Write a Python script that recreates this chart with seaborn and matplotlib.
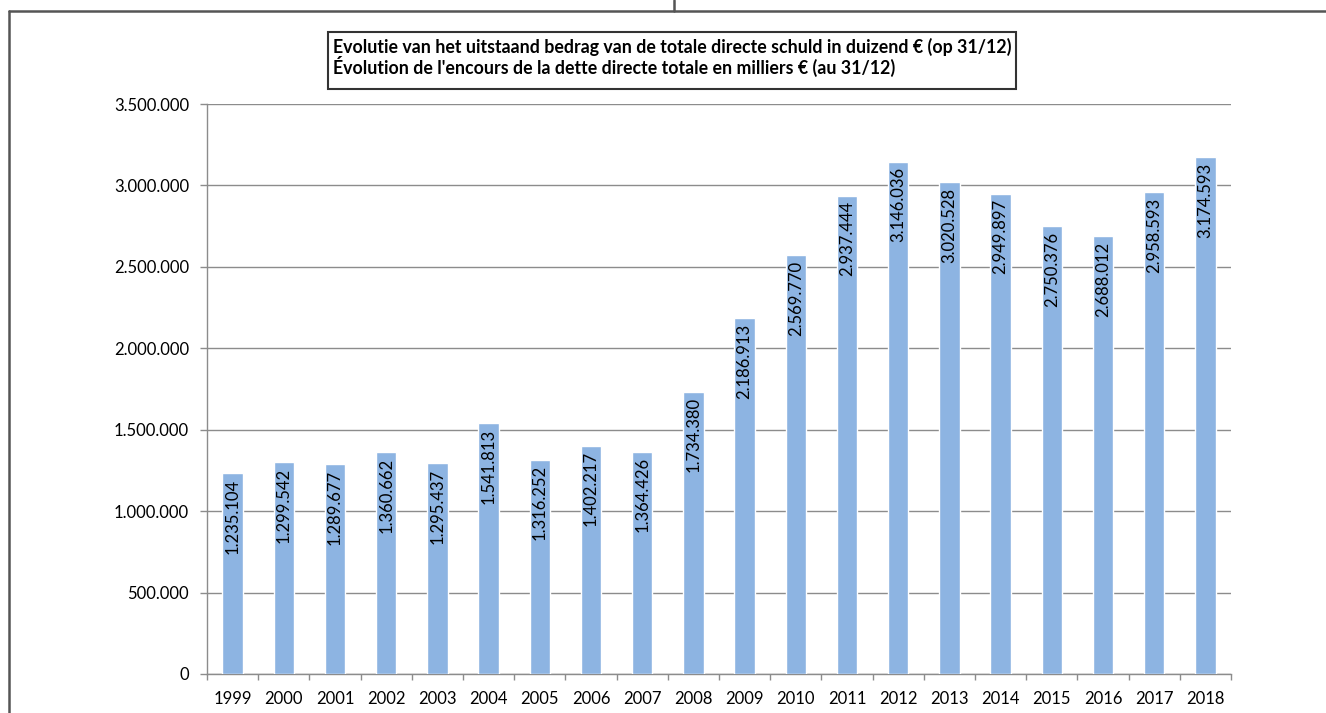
import matplotlib
matplotlib.use("Agg")
import matplotlib.pyplot as plt
import seaborn as sns
import pandas as pd
from matplotlib.lines import Line2D
from matplotlib.patches import Rectangle
from matplotlib.ticker import FixedLocator

years = ["1999", "2000", "2001", "2002", "2003", "2004", "2005", "2006", "2007", "2008",
         "2009", "2010", "2011", "2012", "2013", "2014", "2015", "2016", "2017", "2018"]
debt = [1235104, 1299542, 1289677, 1360662, 1295437, 1541813, 1316252, 1402217, 1364426, 1734380,
        2186913, 2569770, 2937444, 3146036, 3020528, 2949897, 2750376, 2688012, 2958593, 3174593]
yticks = [0, 500000, 1000000, 1500000, 2000000, 2500000, 3000000, 3500000]
title_lines = ["Evolutie van het uitstaand bedrag van de totale directe schuld in duizend € (op 31/12)",
               "Évolution de l'encours de la dette directe totale en milliers € (au 31/12)"]

def fmt(v):
    return f"{v:,}".replace(",", ".")

sns.set_theme(style="white")
plt.rcParams['font.family'] = ['Lato', 'DejaVu Sans']

W, H = 1326, 713
fig = plt.figure(figsize=(W / 100, H / 100), dpi=100)
ax = fig.add_axes([207 / W, (H - 674) / H, (1231 - 207) / W, (674 - 104) / H])

df = pd.DataFrame({"year": years, "debt": debt})
sns.barplot(data=df, x="year", y="debt", color="#8DB4E2", saturation=1, width=0.4, ax=ax, zorder=3)

ax.set_xlim(-0.5, len(years) - 0.5)
ax.set_ylim(0, 3500000)
ax.set_yticks(yticks)
ax.set_yticklabels([fmt(v) for v in yticks], fontsize=12, color="black")
ax.yaxis.grid(True, color="#8c8c8c", linewidth=1, zorder=0)
ax.set_axisbelow(True)
ax.set_xlabel("")
ax.set_ylabel("")

ax.set_xticks(range(len(years)))
ax.set_xticklabels(years, fontsize=12, color="black")
ax.xaxis.set_minor_locator(FixedLocator([i - 0.5 for i in range(len(years) + 1)]))
ax.tick_params(axis="x", which="major", length=0, pad=12)
ax.tick_params(axis="x", which="minor", bottom=True, length=4, width=1, color="#8c8c8c", direction="out")
ax.tick_params(axis="y", which="major", left=True, length=5, width=1, color="#8c8c8c", direction="out", pad=8)

for s in ["top", "right"]:
    ax.spines[s].set_visible(False)
for s in ["left", "bottom"]:
    ax.spines[s].set_color("#8c8c8c")
    ax.spines[s].set_linewidth(1)

for p, v in zip(ax.patches, debt):
    x = p.get_x() + p.get_width() / 2
    ax.annotate(fmt(v), (x, p.get_height()), xytext=(0, -4), textcoords="offset points",
                rotation=90, ha="center", va="top", fontsize=12, color="black", zorder=4)

# outer frame lines
def fl(x0, y0, x1, y1):
    fig.add_artist(Line2D([x0 / W, x1 / W], [1 - y0 / H, 1 - y1 / H], color="#555555", linewidth=1.8,
                          transform=fig.transFigure))
fl(9, 11, 9, H)
fl(9, 11, W, 11)
fl(674, 0, 674, 11)

# title box
bx0, by0, bx1, by1 = 328, 32, 1016, 89
fig.add_artist(Rectangle((bx0 / W, 1 - by1 / H), (bx1 - bx0) / W, (by1 - by0) / H,
                         fill=False, edgecolor="#333333", linewidth=1.5, transform=fig.transFigure))
fig.text((bx0 + 5) / W, 1 - 38 / H, title_lines[0] + "\n" + title_lines[1], ha="left", va="top",
         fontsize=12.8, fontweight="bold", color="black", linespacing=1.0)

fig.savefig("out.png", dpi=100, facecolor="white")
